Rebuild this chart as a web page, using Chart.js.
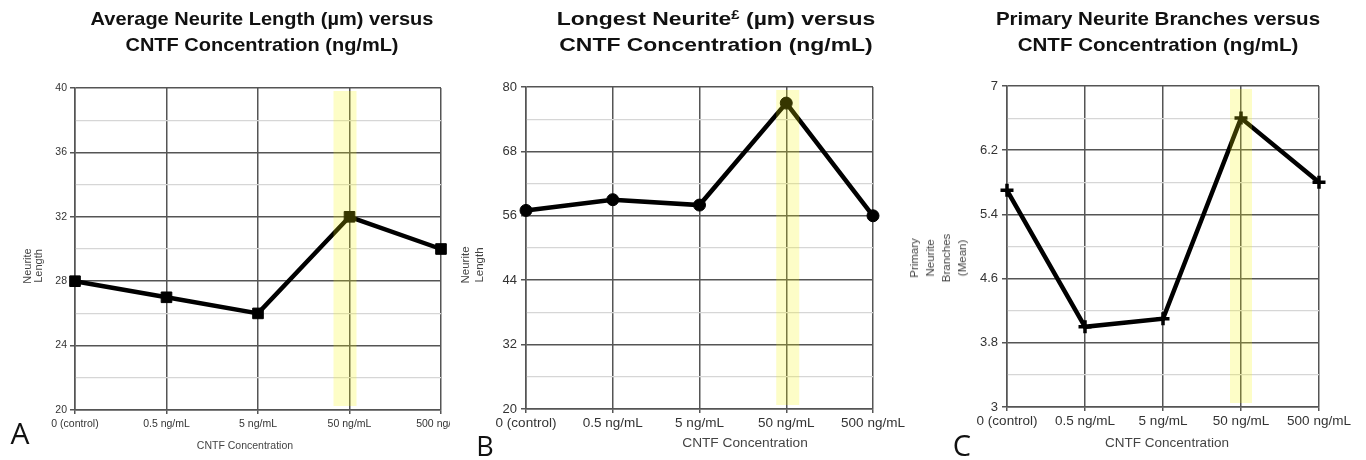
<!DOCTYPE html>
<html>
<head>
<meta charset="utf-8">
<script src="https://cdn.jsdelivr.net/npm/chart.js@4.4.1/dist/chart.umd.min.js"></script>
<style>
  body { margin: 0; width: 1366px; height: 460px; background: #fff; position: relative; overflow: hidden;
         font-family: "Liberation Sans", Arial, sans-serif; }
  canvas { position: absolute; top: 0; }
  .txt { position: absolute; white-space: nowrap; }
  .title { font-weight: bold; font-size: 18.5px; line-height: 26px; text-align: center; color: #111; top: 6px; width: 420px; }
  .title sup { font-size: 12px; vertical-align: 6px; line-height: 0; }
  .xt { color: #444; line-height: 1; transform: translate(-50%, -50%); }
  .yt { color: #444; text-align: center; transform: translate(-50%, -50%) rotate(-90deg); }
  .letter { font-family: "Open Sans", sans-serif; line-height: 1; color: #111; transform: translate(-50%, -50%); }
</style>
</head>
<body>
<canvas id="chartA" width="450" height="460" style="left:0px"></canvas>
<canvas id="chartB" width="460" height="460" style="left:450px"></canvas>
<canvas id="chartC" width="466" height="460" style="left:900px"></canvas>

<div class="txt title" style="left:52px; transform:scaleX(1.08)">Average Neurite Length (µm) versus<br>CNTF Concentration (ng/mL)</div>
<div class="txt title" style="left:506px; transform:scaleX(1.24)">Longest Neurite<sup>£</sup> (µm) versus<br>CNTF Concentration (ng/mL)</div>
<div class="txt title" style="left:948px; transform:scaleX(1.11)">Primary Neurite Branches versus<br>CNTF Concentration (ng/mL)</div>

<div class="txt xt" style="left:245px; top:445px; font-size:10.5px">CNTF Concentration</div>
<div class="txt xt" style="left:745px; top:443px; font-size:13.7px">CNTF Concentration</div>
<div class="txt xt" style="left:1167px; top:442.5px; font-size:13.5px">CNTF Concentration</div>

<div class="txt yt" style="left:33px; top:266px; font-size:11px; line-height:11px">Neurite<br>Length</div>
<div class="txt yt" style="left:471.5px; top:265px; font-size:11.5px; line-height:14px">Neurite<br>Length</div>
<div class="txt yt" style="left:938px; top:257.5px; font-size:11.5px; line-height:16px">Primary<br>Neurite<br>Branches<br>(Mean)</div>

<div class="txt letter" style="left:20px; top:433px; font-size:30px">A</div>
<div class="txt letter" style="left:485px; top:445px; font-size:27px">B</div>
<div class="txt letter" style="left:962px; top:444px; font-size:29px">C</div>

<script>
const categories = ["0 (control)", "0.5 ng/mL", "5 ng/mL", "50 ng/mL", "500 ng/mL"];

const avgLength = [28, 27, 26, 32, 30];
const longestNeurite = [57, 59, 58, 77, 56];
const primaryBranches = [5.7, 4.0, 4.1, 6.6, 5.8];

// labelled y ticks; a light gridline sits halfway between each pair
const avgTicks = [20, 24, 28, 32, 36, 40];
const longestTicks = [20, 32, 44, 56, 68, 80];
const branchTicks = [3, 3.8, 4.6, 5.4, 6.2, 7];

const highlightIndex = 3; // 50 ng/mL

const highlightBand = {
	id: "highlightBand",
	afterDatasetsDraw(chart, args, opts) {
		const { ctx, chartArea } = chart;
		const cx = chart.scales.x.getPixelForValue(opts.index);
		ctx.save();
		ctx.fillStyle = "rgba(245, 245, 0, 0.22)";
		ctx.fillRect(cx + opts.from, chartArea.top + 3, opts.to - opts.from, chartArea.bottom - chartArea.top - 7);
		ctx.restore();
	},
};

function renderPanel(id, values, ticks, p) {
	const canvas = document.getElementById(id);
	const W = canvas.width;
	const H = canvas.height;

	new Chart(canvas.getContext("2d"), {
		type: "line",
		data: {
			labels: categories,
			datasets: [
				{
					data: values,
					borderColor: "#000",
					borderWidth: 4.5,
					pointStyle: p.pointStyle,
					pointRadius: p.pointRadius,
					pointBackgroundColor: "#000",
					pointBorderColor: "#000",
					pointBorderWidth: p.pointBorderWidth,
					tension: 0,
					clip: false,
				},
			],
		},
		plugins: [highlightBand],
		options: {
			responsive: false,
			animation: false,
			layout: {
				autoPadding: false,
				padding: { left: 0, right: W - p.right, top: p.top, bottom: 0 },
			},
			scales: {
				x: {
					type: "category",
					offset: false,
					afterFit: (s) => {
						s.height = H - p.bottom;
						s.paddingLeft = 0;
						s.paddingRight = 0;
					},
					grid: { color: "#555", lineWidth: 1.5, tickLength: 4, tickColor: "#555" },
					border: { color: "#555", width: 1.5 },
					ticks: {
						autoSkip: false,
						maxRotation: 0,
						padding: p.xPad,
						color: "#333",
						font: { family: "'Liberation Sans', Arial", size: p.xFont },
					},
				},
				y: {
					min: ticks[0],
					max: ticks[ticks.length - 1],
					afterFit: (s) => {
						s.width = p.left;
						s.paddingTop = 0;
						s.paddingBottom = 0;
					},
					afterBuildTicks: (s) => {
						const list = [];
						ticks.forEach((v, i) => {
							list.push({ value: v });
							if (i < ticks.length - 1) list.push({ value: (v + ticks[i + 1]) / 2 });
						});
						s.ticks = list;
					},
					grid: {
						color: (c) => (c.index % 2 === 0 ? "#555" : "#d6d6d6"),
						lineWidth: (c) => (c.index % 2 === 0 ? 1.5 : 1.2),
						tickColor: (c) => (c.index % 2 === 0 ? "#555" : "rgba(0,0,0,0)"),
						tickLength: 5,
					},
					border: { color: "#555", width: 1.5 },
					ticks: {
						padding: p.yPad,
						color: "#333",
						font: { family: "'Liberation Sans', Arial", size: p.yFont },
						callback: (value, index) => (index % 2 === 0 ? String(value) : ""),
					},
				},
			},
			plugins: {
				legend: { display: false },
				tooltip: { enabled: false },
				highlightBand: { index: highlightIndex, from: p.bandFrom, to: p.bandTo },
			},
		},
	});
}

renderPanel("chartA", avgLength, avgTicks, {
	left: 75, right: 441, top: 88, bottom: 410,
	pointStyle: "rect", pointRadius: 7.5, pointBorderWidth: 1,
	xFont: 10.5, yFont: 10.5, xPad: 4, yPad: 3,
	bandFrom: -16, bandTo: 7,
});

renderPanel("chartB", longestNeurite, longestTicks, {
	left: 76, right: 423, top: 87, bottom: 409,
	pointStyle: "circle", pointRadius: 6, pointBorderWidth: 1,
	xFont: 13.5, yFont: 13, xPad: 2, yPad: 4,
	bandFrom: -10, bandTo: 13,
});

renderPanel("chartC", primaryBranches, branchTicks, {
	left: 107, right: 419, top: 86, bottom: 407,
	pointStyle: "cross", pointRadius: 6.5, pointBorderWidth: 3.5,
	xFont: 13.5, yFont: 13, xPad: 2, yPad: 4,
	bandFrom: -11, bandTo: 11,
});
</script>
</body>
</html>
